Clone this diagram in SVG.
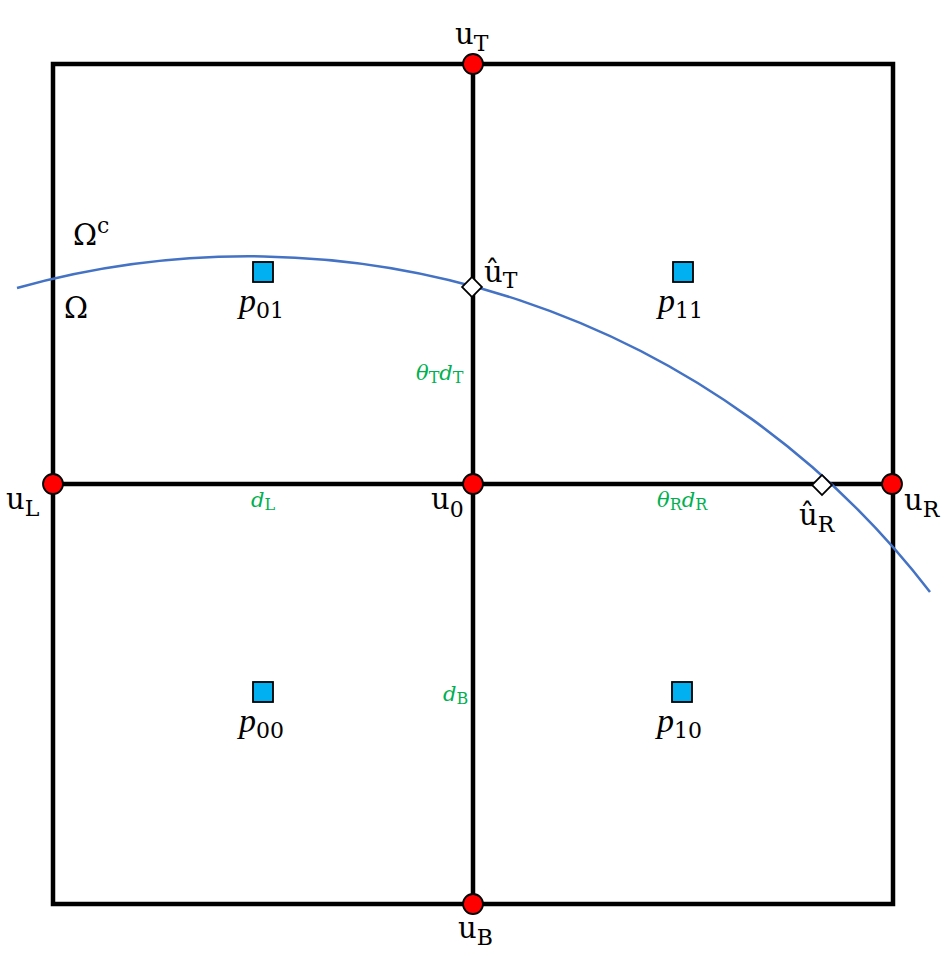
<svg xmlns="http://www.w3.org/2000/svg" width="952" height="957" viewBox="0 0 952 957">
<style>
.grid{fill:none;stroke:#000;stroke-width:4.5}
.curve{fill:none;stroke:#4472C4;stroke-width:2.5}
.node{fill:#FF0000;stroke:#000;stroke-width:1.8}
.cell{fill:#00B0F0;stroke:#000;stroke-width:1.8}
.hat{fill:#fff;stroke:#000;stroke-width:1.8}
.lbl{font-family:"DejaVu Serif","Liberation Serif",serif;font-size:29px;fill:#000}
.sub{font-size:22px}
.p{font-family:"Liberation Serif","DejaVu Serif",serif;font-style:italic;font-size:34px;fill:#000}
.ps{font-family:"DejaVu Serif","Liberation Serif",serif;font-style:normal;font-size:22px}
.g{font-family:"DejaVu Serif","Liberation Serif",serif;font-style:italic;font-size:21px;fill:#00B050}
.gs{font-style:normal;font-size:16px}
</style>
<rect width="952" height="957" fill="#fff"/>
<g id="connectors">
<rect class="grid" x="53" y="64" width="840" height="840"/>
<line class="grid" x1="473" y1="64" x2="473" y2="904"/>
<line class="grid" x1="53" y1="484" x2="893" y2="484"/>
<path class="curve" d="M17,288 A860,860 0 0 1 930,592"/>
</g>
<g id="uT"><circle class="node" cx="473" cy="64" r="10"/><text class="lbl" x="455" y="44">u<tspan class="sub" dy="7">T</tspan></text></g>
<g id="uL"><circle class="node" cx="53" cy="484" r="10"/><text class="lbl" x="6" y="509">u<tspan class="sub" dy="7">L</tspan></text></g>
<g id="u0"><circle class="node" cx="473" cy="484" r="10"/><text class="lbl" x="431" y="509">u<tspan class="sub" dy="8">0</tspan></text></g>
<g id="uR"><circle class="node" cx="892" cy="484" r="10"/><text class="lbl" x="904" y="510">u<tspan class="sub" dy="7">R</tspan></text></g>
<g id="uB"><circle class="node" cx="473" cy="904" r="10"/><text class="lbl" x="458" y="938">u<tspan class="sub" dy="7">B</tspan></text></g>
<g id="uhatT"><rect class="hat" x="465" y="280" width="14" height="14" transform="rotate(45 472 287)"/><text class="lbl" x="484" y="282">û<tspan class="sub" dy="6">T</tspan></text></g>
<g id="uhatR"><rect class="hat" x="815" y="478" width="14" height="14" transform="rotate(45 822 485)"/><text class="lbl" x="799" y="525">û<tspan class="sub" dy="7">R</tspan></text></g>
<g id="p01"><rect class="cell" x="253" y="262" width="20" height="20"/><text class="p" x="239" y="312">p<tspan class="ps" dy="6">01</tspan></text></g>
<g id="p11"><rect class="cell" x="673" y="262" width="20" height="20"/><text class="p" x="658" y="312">p<tspan class="ps" dy="6">11</tspan></text></g>
<g id="p00"><rect class="cell" x="253" y="682" width="20" height="20"/><text class="p" x="239" y="732">p<tspan class="ps" dy="6">00</tspan></text></g>
<g id="p10"><rect class="cell" x="672" y="682" width="20" height="20"/><text class="p" x="657" y="732">p<tspan class="ps" dy="6">10</tspan></text></g>
<g id="omega"><text class="lbl" x="73" y="245" font-size="31">Ω<tspan font-size="22" dy="-12">c</tspan></text><text class="lbl" x="64" y="318" font-size="31">Ω</text></g>
<g id="lengths">
<text class="g" x="416" y="380">θ<tspan class="gs" dy="3">T</tspan><tspan dy="-3">d</tspan><tspan class="gs" dy="3">T</tspan></text>
<text class="g" x="251" y="507">d<tspan class="gs" dy="3">L</tspan></text>
<text class="g" x="657" y="507">θ<tspan class="gs" dy="3">R</tspan><tspan dy="-3">d</tspan><tspan class="gs" dy="3">R</tspan></text>
<text class="g" x="443" y="701">d<tspan class="gs" dy="3">B</tspan></text>
</g>
</svg>
